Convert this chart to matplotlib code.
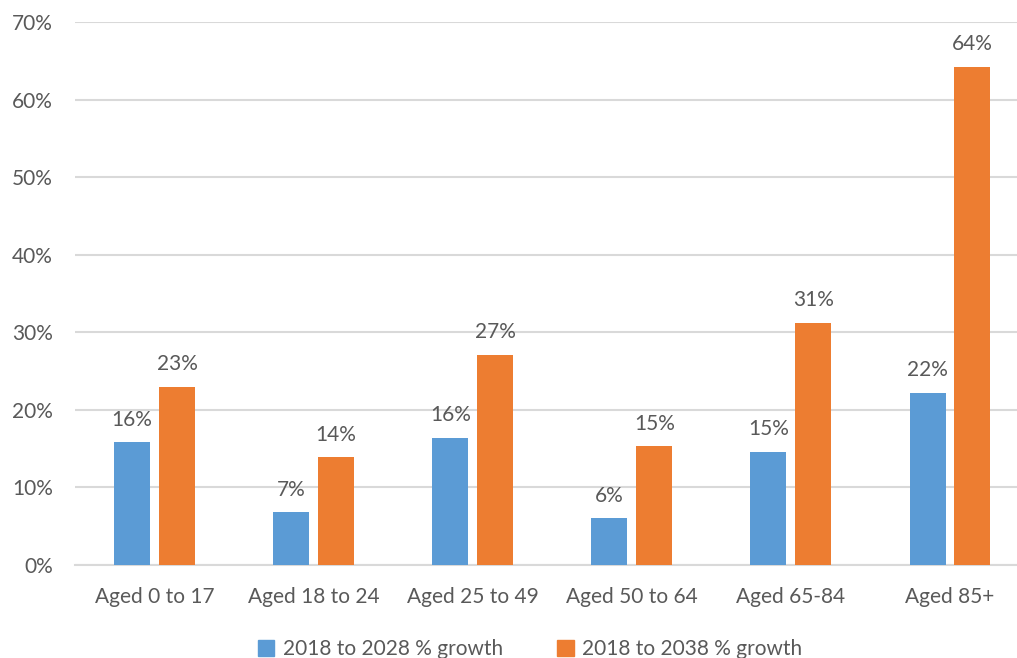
import numpy as np
import matplotlib.pyplot as plt
from matplotlib.ticker import PercentFormatter
from matplotlib.patches import Patch

plt.rcParams['font.family'] = ['Lato', 'DejaVu Sans']

# Population growth by age group
groups = ['Aged 0 to 17', 'Aged 18 to 24', 'Aged 25 to 49',
          'Aged 50 to 64', 'Aged 65-84', 'Aged 85+']
growth_2028 = [15.8, 6.8, 16.4, 6.0, 14.6, 22.2]
growth_2038 = [23.0, 13.9, 27.1, 15.3, 31.2, 64.2]
series_names = ['2018 to 2028 % growth', '2018 to 2038 % growth']

blue = '#5b9bd5'
orange = '#ed7d31'
text_col = '#595959'
grid_col = '#d9d9d9'

W, H = 1017, 658
fig = plt.figure(figsize=(W / 100, H / 100), dpi=100)
ax = fig.add_axes([75 / W, 93 / H, (1029.5 - 75) / W, (565 - 22) / H])

x = np.arange(len(groups))
bw = 0.226
off = 0.141
b1 = ax.bar(x - off, growth_2028, bw, color=blue, zorder=3)
b2 = ax.bar(x + off, growth_2038, bw, color=orange, zorder=3)

for bars, vals in ((b1, growth_2028), (b2, growth_2038)):
    for rect, v in zip(bars, vals):
        ax.annotate(f'{v:.0f}%', (rect.get_x() + rect.get_width() / 2, v),
                    xytext=(0, 9), textcoords='offset points',
                    ha='center', va='bottom', fontsize=15, color=text_col)

ax.set_xlim(-0.5, len(groups) - 0.5)
ax.set_ylim(0, 70)
ax.set_yticks(np.arange(0, 71, 10))
ax.yaxis.set_major_formatter(PercentFormatter(decimals=0))
ax.set_xticks(x)
ax.set_xticklabels(groups)
ax.tick_params(axis='both', length=0, labelsize=15, colors=text_col)
ax.tick_params(axis='x', pad=16)
ax.tick_params(axis='y', pad=16)
ax.grid(axis='y', color=grid_col, linewidth=1.5, zorder=0)
for s in ['top', 'right', 'left']:
    ax.spines[s].set_visible(False)
ax.spines['bottom'].set_color(grid_col)
ax.spines['bottom'].set_linewidth(1.5)

handles = [Patch(color=blue), Patch(color=orange)]
fig.legend(handles, series_names, loc='center', bbox_to_anchor=(530 / W, 1 - 649 / H),
           ncol=2, frameon=False, fontsize=15, labelcolor=text_col,
           handlelength=0.8, handleheight=0.8, handletextpad=0.4, columnspacing=2.6)

fig.savefig('out.png', dpi=100)
